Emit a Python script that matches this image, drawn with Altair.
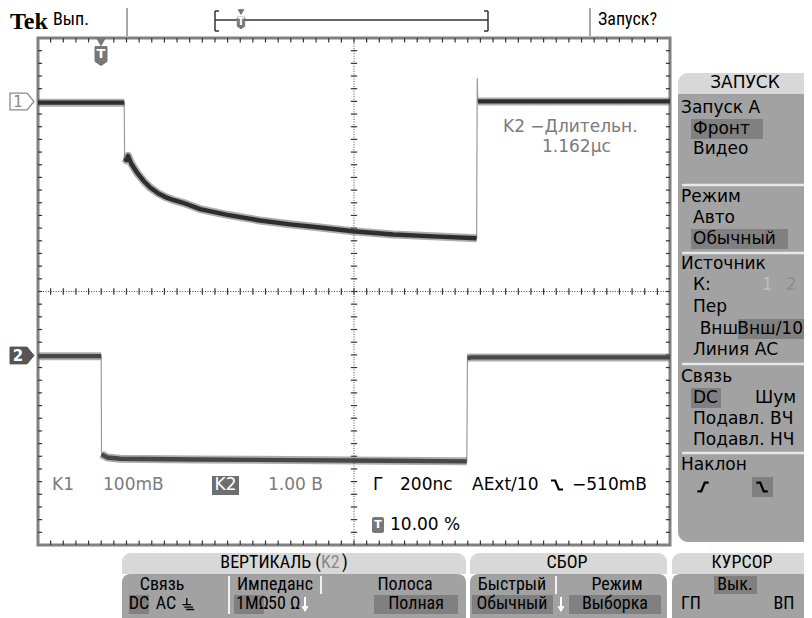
import altair as alt
import pandas as pd
import numpy as np

# ---------------- waveform data read from the screen ----------------
# time in ns relative to the trigger point (200 ns / div)
# channel 1: level in mV relative to its marker "1" (100 mV / div)
CH1_T = [-200, 73, 74, 80, 85, 95, 114, 135, 155, 180, 203, 230, 259, 313, 399,
         503, 598, 693, 797, 924, 1050, 1188, 1190, 1192, 1800]
CH1_MV = [-2, -2, -90, -93, -86, -98, -113, -126, -136, -145, -151, -156, -160, -170, -179,
          -188, -194, -199, -205, -210, -213, -216, 37, 0, 0]
CH1_PART = ["a", "a"] + ["b"] * 20 + ["spike", "c", "c"]

# channel 2: level in V relative to its marker "2" (1.00 V / div)
CH2_T = [-200, 0, 1, 20, 60, 300, 600, 900, 1157, 1159, 1170, 1800]
CH2_V = [-0.02, -0.02, -1.57, -1.62, -1.64, -1.65, -1.66, -1.67, -1.68, -0.05, -0.04, -0.04]
CH2_PART = ["a", "a"] + ["b"] * 7 + ["c"] * 3

CH1_MARK, CH1_SCALE = 3.0, 100.0   # marker position (div), mV per div
CH2_MARK, CH2_SCALE = -1.0, 1.0    # marker position (div), V per div

# ---------------- layout constants ----------------
W, H = 632, 507
OX, OY = 38, 38          # page position of the plot origin
SANS = "DejaVu Sans"
COND = "Liberation Sans Narrow, Roboto Condensed, Arial Narrow, Liberation Sans"
GRAYTXT = "#7b7b7b"
PANEL = "#a2a2a2"
TAB = "#d8d8d8"
HILITE = "#808080"
RIGHT = 804              # right edge of the drawable page

xs = alt.Scale(domain=[-200, 1800], nice=False, zero=False)
ys = alt.Scale(domain=[-4, 4], nice=False, zero=False)

df1 = pd.DataFrame({"t": CH1_T,
                    "d": [CH1_MARK + v / CH1_SCALE for v in CH1_MV],
                    "part": CH1_PART})
df2 = pd.DataFrame({"t": CH2_T,
                    "d": [CH2_MARK + v / CH2_SCALE for v in CH2_V],
                    "part": CH2_PART})

# graticule ticks (structure of the screen)
minor_t = np.arange(-160, 1800, 40)
minor_y = np.round(np.arange(-3.8, 4.0, 0.2), 3)
rows = []
for t in minor_t:
    rows.append((t, 4.0, t, 3.93))
    rows.append((t, -4.0, t, -3.93))
    rows.append((t, -0.05, t, 0.05))
for y in minor_y:
    rows.append((-200, y, -187, y))
    rows.append((1800, y, 1787, y))
    rows.append((790, y, 810, y))
ticks = pd.DataFrame(rows, columns=["x1", "y1", "x2", "y2"])
center = pd.DataFrame({"x1": [800, -200], "y1": [-4, 0], "x2": [800, 1800], "y2": [4, 0]})

xaxis = alt.Axis(values=[0, 200, 400, 600, 1000, 1200, 1400, 1600], grid=True,
                 gridDash=[1.8, 10.875], gridColor="#333", gridWidth=1.8,
                 labels=False, ticks=False, domain=False, title=None)
yaxis = alt.Axis(values=[-3, -2, -1, 1, 2, 3], grid=True,
                 gridDash=[1.8, 10.84], gridColor="#333", gridWidth=1.8,
                 labels=False, ticks=False, domain=False, title=None)

grid_ticks = alt.Chart(ticks).mark_rule(color="#333", strokeWidth=1.2).encode(
    x=alt.X("x1:Q", scale=xs, axis=xaxis), x2="x2:Q",
    y=alt.Y("y1:Q", scale=ys, axis=yaxis), y2="y2:Q")
center_lines = alt.Chart(center).mark_rule(color="#444", strokeWidth=1, strokeDash=[1, 1.53]).encode(
    x=alt.X("x1:Q", scale=xs, axis=None), x2="x2:Q",
    y=alt.Y("y1:Q", scale=ys, axis=None), y2="y2:Q")


def trace(df, core_color):
    X = alt.X("t:Q", scale=xs, axis=None)
    Y = alt.Y("d:Q", scale=ys, axis=None)
    thin = alt.Chart(df).mark_line(color="#9c9c9c", strokeWidth=1.2).encode(x=X, y=Y)
    halo = alt.Chart(df).transform_filter("datum.part != 'spike'").mark_line(
        color="#6a6a6a", strokeWidth=8, opacity=0.55, strokeJoin="round").encode(x=X, y=Y, detail="part:N")
    core = alt.Chart(df).transform_filter("datum.part != 'spike'").mark_line(
        color=core_color, strokeWidth=4.4, strokeJoin="round").encode(x=X, y=Y, detail="part:N")
    return [thin, halo, core]


BASE = pd.DataFrame({"z": [0]})


def tx(s, x, y, size=17, color="#000", align="left", font=SANS, weight="normal"):
    return alt.Chart(BASE).mark_text(text=s, align=align, baseline="middle", fontSize=size,
                                     color=color, font=font, fontWeight=weight).encode(
        x=alt.value(x - OX), y=alt.value(y - OY))


def box(x1, y1, x2, y2, fill, **kw):
    return alt.Chart(BASE).mark_rect(fill=fill, **kw).encode(
        x=alt.value(x1 - OX), x2=alt.value(x2 - OX), y=alt.value(y1 - OY), y2=alt.value(y2 - OY))


def seg(x1, y1, x2, y2, color, width=1.5):
    return alt.Chart(BASE).mark_rule(color=color, strokeWidth=width).encode(
        x=alt.value(x1 - OX), x2=alt.value(x2 - OX), y=alt.value(y1 - OY), y2=alt.value(y2 - OY))


def sym(path, x, y, size, fill=None, stroke=None, sw=1.0):
    if fill is not None:
        m = alt.Chart(BASE).mark_point(shape=path, size=size, filled=True, fill=fill,
                                       stroke=stroke if stroke else fill, strokeWidth=sw, opacity=1)
    else:
        m = alt.Chart(BASE).mark_point(shape=path, size=size, filled=False, stroke=stroke,
                                       strokeWidth=sw, opacity=1, strokeJoin="miter")
    return m.encode(x=alt.value(x - OX), y=alt.value(y - OY))


SHIELD = "M-0.6,-0.95 L0.6,-0.95 L0.6,0.55 L0,0.95 L-0.6,0.55 Z"
MARKER = "M-1,-0.7 L0.42,-0.7 L1,0 L0.42,0.7 L-1,0.7 Z"
RISE = "M-1,0.75 L-0.3,0.75 L0.3,-0.75 L1,-0.75"
FALL = "M-1,-0.75 L-0.3,-0.75 L0.3,0.75 L1,0.75"
GND = "M-0.2,-1 L-0.2,0.1 M-0.9,0.1 L0.5,0.1 M-0.6,0.5 L0.8,0.5 M-0.3,0.9 L1,0.9"

layers = [grid_ticks, center_lines]
layers += trace(df2, "#474747")
layers += trace(df1, "#2e2e2e")

# ---- top status bar ----
layers += [
    tx("Tek", 10, 22, size=24, font="Liberation Serif", weight="bold"),
    tx("Вып.", 53, 20, size=18, font=COND),
    seg(127, 8, 127, 36, "#8a8a8a", 1.5),
    seg(590, 8, 590, 36, "#8a8a8a", 1.5),
    tx("Запуск?", 598, 20, size=18, font=COND),
    seg(215, 20, 488, 20, "#333", 1.3),
    seg(215, 11, 215, 31, "#333", 1.5), seg(215, 11, 219, 11, "#333", 1.5), seg(215, 31, 219, 31, "#333", 1.5),
    seg(488, 11, 488, 31, "#333", 1.5), seg(484, 11, 488, 11, "#333", 1.5), seg(484, 31, 488, 31, "#333", 1.5),
    sym("triangle-down", 241, 12, 30, fill="#777"),
    sym(SHIELD, 241, 23, 150, fill="#777"),
    tx("T", 241, 22, size=10, color="white", align="center", weight="bold"),
]

# ---- trigger marker and channel markers ----
layers += [
    sym("triangle-down", 101, 42, 70, fill="#777"),
    sym(SHIELD, 101, 56, 400, fill="#777"),
    tx("T", 101, 54, size=13, color="white", align="center", weight="bold"),
    sym(MARKER, 22, 101.5, 576, fill="white", stroke="#8a8a8a", sw=1.3),
    tx("1", 18, 102, size=15, color="#8a8a8a", align="center"),
    sym(MARKER, 22, 355.5, 576, fill="#555"),
    tx("2", 18, 356, size=15, color="white", align="center", weight="bold"),
]

# ---- readouts inside the graticule ----
layers += [
    tx("K2 \u2212Длительн.", 503, 127, color=GRAYTXT),
    tx("1.162µc", 542, 147, color=GRAYTXT),
    tx("K1", 52, 485, color=GRAYTXT),
    tx("100mB", 103, 485, color=GRAYTXT),
    box(212, 476, 239, 495, "#6e6e6e"),
    tx("K2", 225.5, 485, color="white", align="center"),
    tx("1.00 B", 268, 485, color=GRAYTXT),
    tx("Г", 373, 485),
    tx("200nc", 400, 485),
    tx("AExt/10", 472, 485),
    sym(FALL, 557, 485, 144, stroke="#000", sw=2.2),
    tx("\u2212510mB", 572, 485),
    box(372, 517, 384, 533, "#777", cornerRadius=2),
    tx("T", 378, 525, size=11, color="white", align="center", weight="bold"),
    tx("10.00 %", 390, 525),
]

# ---- right-hand trigger menu ----
layers += [
    box(678, 73, RIGHT, 94, TAB, cornerRadiusTopLeft=10),
    tx("ЗАПУСК", 745, 83, align="center"),
    box(678, 94, RIGHT, 542, PANEL, cornerRadiusBottomLeft=10),
    box(691, 119, 763, 139, HILITE),
    box(691, 229, 788, 249, HILITE),
    box(738, 319, RIGHT, 339, HILITE),
    box(691, 388, 721, 408, HILITE),
    box(752, 477, 773, 497, HILITE),
    seg(682, 185, RIGHT, 185, "#e8e8e8", 2.5),
    seg(682, 253, RIGHT, 253, "#e8e8e8", 2.5),
    seg(682, 364, RIGHT, 364, "#e8e8e8", 2.5),
    seg(682, 453, RIGHT, 453, "#e8e8e8", 2.5),
    tx("Запуск А", 681, 108),
    tx("Фронт", 693, 129),
    tx("Видео", 693, 149),
    tx("Режим", 681, 197),
    tx("Авто", 693, 218),
    tx("Обычный", 693, 239),
    tx("Источник", 681, 264),
    tx("К:", 693, 285),
    tx("1", 762, 285, color="#bdbdbd"),
    tx("2", 786, 285, color="#8e8e8e"),
    tx("Пер", 693, 307),
    tx("Внш", 738, 329, align="right"),
    tx("Внш/10", 803, 329, align="right"),
    tx("Линия АС", 693, 350),
    tx("Связь", 681, 377),
    tx("DC", 693, 398),
    tx("Шум", 755, 398),
    tx("Подавл. ВЧ", 693, 419),
    tx("Подавл. НЧ", 693, 440),
    tx("Наклон", 681, 465),
    sym(RISE, 703, 487, 130, stroke="#000", sw=2.2),
    sym(FALL, 762, 487, 130, stroke="#000", sw=2.2),
]

# ---- bottom menu ----
layers += [
    box(122, 553, 466, 574, TAB, cornerRadiusTopLeft=9, cornerRadiusTopRight=9),
    box(470, 553, 667, 574, TAB, cornerRadiusTopLeft=9, cornerRadiusTopRight=9),
    box(672, 553, RIGHT, 574, TAB, cornerRadiusTopLeft=9),
    box(122, 574, 466, 630, PANEL, cornerRadius=8),
    box(470, 574, 667, 630, PANEL, cornerRadius=8),
    box(672, 574, RIGHT, 630, PANEL, cornerRadiusTopLeft=8),
    tx("ВЕРТИКАЛЬ (", 321, 563, size=18, font=COND, align="right"),
    tx("K2", 321, 563, size=18, font=COND, color="#8a8a8a"),
    tx(")", 342, 563, size=18, font=COND),
    tx("СБОР", 567, 563, size=18, font=COND, align="center"),
    tx("КУРСОР", 742, 563, size=18, font=COND, align="center"),
    box(129, 595, 149, 614, HILITE),
    box(234, 595, 264, 614, HILITE),
    box(374, 595, 458, 614, HILITE),
    box(472, 595, 553, 614, HILITE),
    box(569, 595, 661, 614, HILITE),
    box(714, 576, 757, 594, HILITE),
    seg(229, 576, 229, 614, "#f2f2f2", 2),
    seg(321, 576, 321, 594, "#f2f2f2", 2),
    seg(556, 576, 556, 594, "#f2f2f2", 2),
    tx("Связь", 162, 585, size=18, font=COND, align="center"),
    tx("Импеданс", 275, 585, size=18, font=COND, align="center"),
    tx("Полоса", 405, 585, size=18, font=COND, align="center"),
    tx("Быстрый", 512, 585, size=18, font=COND, align="center"),
    tx("Режим", 617, 585, size=18, font=COND, align="center"),
    tx("Вык.", 735, 585, size=18, font=COND, align="center"),
    tx("DC", 139, 604, size=18, font=COND, align="center"),
    tx("AC", 166, 604, size=18, font=COND, align="center"),
    sym(GND, 188, 604, 150, stroke="#000", sw=1.3),
    tx("1MΩ", 236, 604, size=18, font=COND),
    tx("50 Ω", 268, 604, size=18, font=COND),
    seg(305, 597, 305, 609, "white", 2),
    sym("triangle-down", 305, 609, 30, fill="white"),
    tx("Полная", 416, 604, size=18, font=COND, align="center"),
    tx("Обычный", 512, 604, size=18, font=COND, align="center"),
    seg(561, 597, 561, 609, "white", 2),
    sym("triangle-down", 561, 609, 30, fill="white"),
    tx("Выборка", 615, 604, size=18, font=COND, align="center"),
    tx("ГП", 691, 604, size=18, font=COND, align="center"),
    tx("ВП", 784, 604, size=18, font=COND, align="center"),
]

chart = alt.layer(*layers).properties(
    width=W, height=H,
    padding={"left": 30, "top": 30, "right": 134, "bottom": 73},
    autosize=alt.AutoSizeParams(type="none"),
    background="white",
).configure_view(stroke="#808080", strokeWidth=3)

chart.save("out.html", embed_options={"renderer": "svg", "actions": False})
